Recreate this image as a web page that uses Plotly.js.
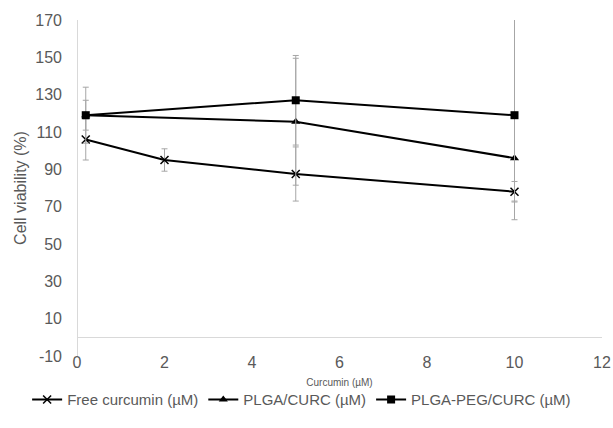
<!DOCTYPE html>
<html>
<head>
<meta charset="utf-8">
<script src="https://cdn.plot.ly/plotly-3.0.1.min.js"></script>
<style>html,body{margin:0;padding:0;background:#fff;}#chart{width:613px;height:428px;}</style>
</head>
<body>
<div id="chart"></div>
<script>
// Concentrations (µM)
const freeX = [0.2, 2, 5, 10];
const plgaX = [0.2, 5, 10];
const pegX = [0.2, 5, 10];
// Cell viability (%)
const freeY = [106, 95, 87.5, 78];
const plgaY = [119, 115.5, 96];
const pegY = [119, 127, 119];
// Error (±)
const freeErr = [11, 6, 14.5, 5.5];
const plgaErr = [8, 34, 23];
const pegErr = [15, 24, 56];
// Labels
const seriesNames = ['Free curcumin (µM)', 'PLGA/CURC (µM)', 'PLGA-PEG/CURC (µM)'];
const xTickVals = [0, 2, 4, 6, 8, 10, 12];
const yTickVals = [-10, 10, 30, 50, 70, 90, 110, 130, 150, 170];

const txt = '#595959';
const font = 'Liberation Sans, Arial, sans-serif';
const errStyle = (arr) => ({type: 'data', array: arr, visible: true, color: '#a6a6a6', thickness: 1, width: 3});

const traces = [
  {x: freeX, y: freeY, name: seriesNames[0], type: 'scatter', mode: 'lines+markers',
   line: {color: '#000', width: 2}, marker: {symbol: 'x-thin-open', size: 8, color: '#000', line: {color: '#000', width: 1.5}},
   error_y: errStyle(freeErr)},
  {x: plgaX, y: plgaY, name: seriesNames[1], type: 'scatter', mode: 'lines+markers',
   line: {color: '#000', width: 2}, marker: {symbol: 'triangle-up', size: 8, color: '#000'},
   error_y: errStyle(plgaErr)},
  {x: pegX, y: pegY, name: seriesNames[2], type: 'scatter', mode: 'lines+markers',
   line: {color: '#000', width: 2}, marker: {symbol: 'square', size: 8, color: '#000'},
   error_y: errStyle(pegErr)}
];

const layout = {
  width: 613, height: 428,
  margin: {l: 77, r: 11, t: 20, b: 72},
  paper_bgcolor: '#fff', plot_bgcolor: '#fff',
  font: {family: font, color: txt, size: 16},
  showlegend: true,
  legend: {orientation: 'h', x: -0.095, y: -0.13,
           xanchor: 'left', yanchor: 'middle', font: {size: 15, color: txt}, itemwidth: 30, tracegroupgap: 0},
  xaxis: {range: [0, 12], tickvals: xTickVals, ticktext: xTickVals.map(String), showgrid: false,
          zeroline: true, zerolinecolor: '#d9d9d9', zerolinewidth: 1, showline: false, ticks: '',
          tickfont: {size: 16, color: txt}, ticklabelstandoff: -5, automargin: false,
          title: {text: 'Curcumin (µM)', font: {size: 10, color: txt}, standoff: 8}},
  yaxis: {range: [-10, 170], tickvals: yTickVals, ticktext: yTickVals.map(String), showgrid: false,
          zeroline: true, zerolinecolor: '#d9d9d9', zerolinewidth: 1, showline: false, ticks: '',
          tickfont: {size: 16, color: txt}, ticklabelstandoff: 14,
          title: {text: 'Cell viability (%)', font: {size: 16, color: txt}, standoff: 4}}
};

Plotly.newPlot('chart', traces, layout, {displayModeBar: false, staticPlot: true});
</script>
</body>
</html>
